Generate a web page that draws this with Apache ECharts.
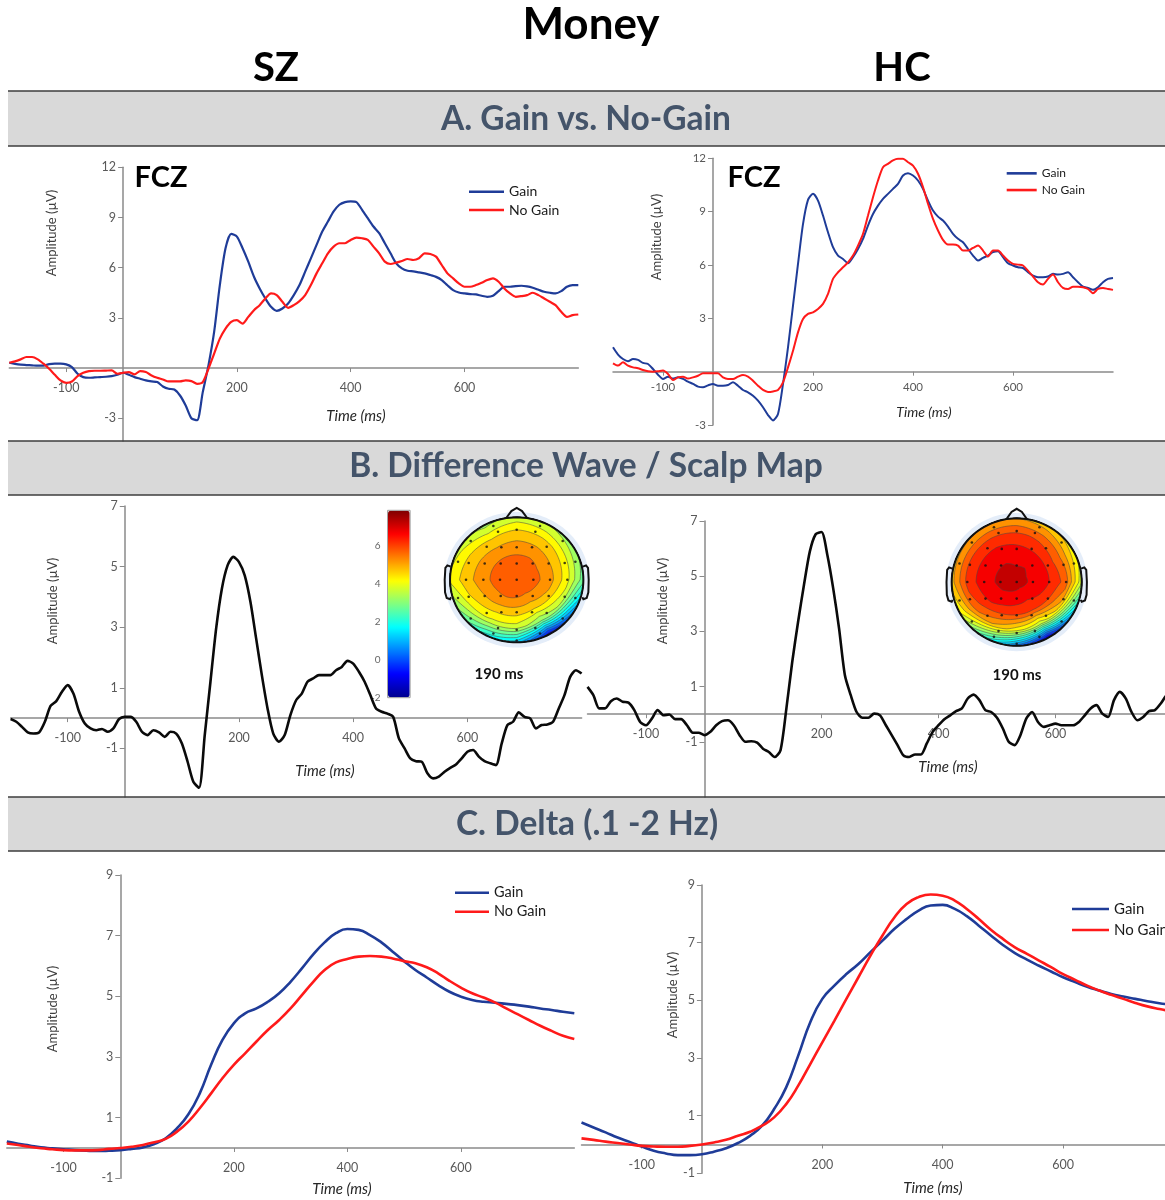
<!DOCTYPE html>
<html>
<head>
<meta charset="utf-8">
<script src="https://cdn.jsdelivr.net/npm/echarts@6/dist/echarts.min.js"></script>
<style>
  html, body { margin: 0; padding: 0; background: #ffffff; }
  #chart { width: 1165px; height: 1200px; }
</style>
</head>
<body>
<div id="chart"></div>
<script>
// ---- Sample times (ms) ----
const timeMs10 = [
  -200,-190,-180,-170,-160,-150,-140,-130,-120,-110,
  -100,-90,-80,-70,-60,-50,-40,-30,-20,-10,
  0,10,20,30,40,50,60,70,80,90,
  100,110,120,130,140,150,160,170,180,190,
  200,210,220,230,240,250,260,270,280,290,
  300,310,320,330,340,350,360,370,380,390,
  400,410,420,430,440,450,460,470,480,490,
  500,510,520,530,540,550,560,570,580,590,
  600,610,620,630,640,650,660,670,680,690,
  700,710,720,730,740,750,760,770,780,790,
  800
];
const timeMs20 = [
  -200,-180,-160,-140,-120,-100,-80,-60,-40,-20,
  0,20,40,60,80,100,120,140,160,180,
  200,220,240,260,280,300,320,340,360,380,
  400,420,440,460,480,500,520,540,560,580,
  600,620,640,660,680,700,720,740,760,780,
  800
];

// ---- A. Gain vs. No-Gain at FCZ (µV) ----
const szGainA = [
  0.32,0.25,0.2,0.18,0.16,0.14,0.14,0.24,0.26,0.26,
  0.22,0.06,-0.34,-0.54,-0.58,-0.56,-0.54,-0.52,-0.48,-0.4,
  -0.28,-0.4,-0.54,-0.64,-0.74,-0.8,-0.84,-1.1,-1.24,-1.28,
  -1.64,-2.24,-3.0,-3.12,-1.44,0.16,2.16,4.96,7.16,8.02,
  7.86,7.16,6.36,5.46,4.76,4.16,3.66,3.42,3.56,3.86,
  4.36,4.96,5.76,6.56,7.36,8.16,8.76,9.36,9.76,9.92,
  9.96,9.92,9.46,8.96,8.46,8.06,7.46,6.86,6.26,5.96,
  5.82,5.78,5.72,5.66,5.56,5.45,5.26,4.95,4.66,4.52,
  4.46,4.42,4.4,4.32,4.26,4.32,4.6,4.86,4.86,4.9,
  4.92,4.88,4.8,4.68,4.56,4.5,4.46,4.6,4.86,4.96,
  4.96
];
const szNoGainA = [
  0.32,0.4,0.52,0.66,0.66,0.52,0.26,-0.04,-0.4,-0.74,
  -0.88,-0.8,-0.48,-0.28,-0.18,-0.16,-0.16,-0.15,-0.14,-0.34,
  -0.28,-0.24,-0.38,-0.18,-0.24,-0.44,-0.58,-0.68,-0.8,-0.8,
  -0.8,-0.74,-0.78,-0.94,-0.84,-0.04,0.86,1.76,2.36,2.76,
  2.86,2.66,3.06,3.46,3.76,4.16,4.46,4.36,3.96,3.6,
  3.76,4.0,4.36,4.96,5.66,6.26,6.86,7.26,7.46,7.46,
  7.66,7.8,7.76,7.66,7.26,6.86,6.36,6.22,6.3,6.4,
  6.52,6.46,6.56,6.86,6.82,6.66,6.16,5.66,5.36,5.06,
  4.86,4.86,4.96,5.1,5.26,5.36,5.16,4.76,4.46,4.26,
  4.3,4.36,4.5,4.36,4.16,3.96,3.76,3.36,3.06,3.16,
  3.2
];
const hcGainA = [
  1.37,0.96,0.71,0.58,0.71,0.66,0.49,0.43,0.15,-0.17,
  -0.41,-0.28,-0.39,-0.32,-0.41,-0.56,-0.69,-0.84,-0.88,-0.77,
  -0.69,-0.79,-0.79,-0.75,-0.6,-0.79,-1.03,-1.16,-1.35,-1.63,
  -2.0,-2.44,-2.74,-2.38,-0.69,1.37,3.71,6.06,8.3,9.66,
  10.0,9.62,8.78,7.84,7.0,6.53,6.34,6.1,6.44,6.9,
  7.47,8.22,8.87,9.34,9.72,10.0,10.28,10.56,11.03,11.16,
  11.03,10.75,10.28,9.62,9.06,8.72,8.5,8.16,7.75,7.47,
  7.28,6.9,6.53,6.25,6.4,6.53,6.72,6.77,6.44,6.1,
  5.97,5.87,5.83,5.59,5.4,5.31,5.31,5.35,5.5,5.46,
  5.5,5.59,5.31,5.03,4.78,4.71,4.6,4.75,5.03,5.22,
  5.27
];
const hcNoGainA = [
  0.47,0.34,0.53,0.34,0.24,0.19,0.09,0.02,0,0.02,
  0.06,-0.13,-0.47,-0.32,-0.28,-0.39,-0.32,-0.23,-0.09,-0.09,
  -0.09,-0.09,-0.32,-0.41,-0.41,-0.28,-0.19,-0.28,-0.51,-0.79,
  -1.03,-1.14,-1.11,-1.03,-0.6,0.24,1.18,2.21,2.96,3.25,
  3.34,3.53,3.81,4.37,5.22,5.59,5.87,6.15,6.53,7.09,
  7.75,8.78,9.81,10.75,11.5,11.69,11.88,11.97,11.97,11.78,
  11.59,11.13,10.38,9.44,8.59,7.94,7.41,7.15,7.15,7.09,
  6.81,6.81,6.96,7.09,6.81,6.47,6.81,6.81,6.53,6.25,
  6.06,6.02,5.97,5.68,5.35,5.03,4.9,5.22,5.46,5.03,
  4.71,4.65,4.78,4.78,4.75,4.65,4.41,4.65,4.71,4.65,
  4.6
];

// ---- B. Difference waves (Gain minus No-Gain, µV) ----
const szDiffB = [
  -0.03,-0.12,-0.29,-0.47,-0.51,-0.47,-0.12,0.4,0.56,0.87,
  1.09,0.81,0.21,-0.18,-0.34,-0.4,-0.36,-0.45,-0.34,-0.03,
  0.04,0.04,-0.12,-0.45,-0.56,-0.4,-0.47,-0.62,-0.45,-0.51,
  -0.84,-1.44,-2.1,-2.3,-0.56,1.2,2.96,4.27,5.04,5.32,
  5.15,4.71,3.84,2.63,1.42,0.32,-0.51,-0.78,-0.56,0.1,
  0.59,0.81,1.2,1.31,1.42,1.42,1.42,1.58,1.69,1.89,
  1.8,1.53,1.2,0.76,0.32,0.21,0.15,0.04,-0.67,-1.0,
  -1.33,-1.42,-1.44,-1.82,-1.99,-1.93,-1.77,-1.64,-1.53,-1.33,
  -1.11,-1.05,-1.27,-1.42,-1.49,-1.55,-0.84,-0.23,-0.12,0.19,
  0.04,-0.01,-0.34,-0.23,-0.21,-0.12,0.32,0.76,1.36,1.58,
  1.47
];
const hcDiffB = [
  0.99,0.69,0.21,0.21,0.47,0.57,0.45,0.42,0.15,-0.28,
  -0.4,-0.16,0.15,-0.04,-0.01,-0.18,-0.18,-0.4,-0.67,-0.67,
  -0.76,-0.64,-0.4,-0.25,-0.22,-0.4,-0.76,-1.0,-0.98,-1.03,
  -1.25,-1.37,-1.55,-1.3,0.21,1.9,3.35,4.68,5.89,6.52,
  6.6,5.77,4.56,3.11,1.41,0.69,0.08,-0.13,-0.13,0.02,
  -0.04,-0.4,-0.76,-1.12,-1.49,-1.55,-1.46,-1.46,-1.06,-0.64,
  -0.4,-0.18,-0.04,0.11,0.21,0.57,0.71,0.51,0.15,0.08,
  -0.13,-0.52,-1.0,-1.12,-0.76,-0.16,0.08,-0.28,-0.46,-0.4,
  -0.34,-0.4,-0.4,-0.4,-0.28,-0.04,0.21,0.33,0.02,-0.1,
  0.51,0.81,0.57,0.08,-0.22,-0.1,0.11,0.15,0.39,0.69,
  0.81
];

// ---- C. Delta band (.1 - 2 Hz, µV) ----
const szGainC = [
  0.21,0.14,0.08,0.02,-0.01,-0.04,-0.07,-0.09,-0.1,-0.09,
  -0.07,-0.03,0.02,0.13,0.32,0.65,1.11,1.8,2.74,3.56,
  4.11,4.44,4.6,4.82,5.1,5.48,5.92,6.38,6.78,7.08,
  7.22,7.19,7.02,6.78,6.47,6.16,5.87,5.62,5.37,5.15,
  4.99,4.88,4.82,4.79,4.75,4.71,4.66,4.6,4.55,4.49,
  4.44
];
const szNoGainC = [
  0.15,0.1,0.04,-0.01,-0.04,-0.07,-0.08,-0.08,-0.07,-0.03,
  0,0.04,0.1,0.19,0.3,0.54,0.87,1.31,1.8,2.3,
  2.74,3.12,3.51,3.89,4.22,4.6,5.04,5.48,5.87,6.12,
  6.23,6.31,6.33,6.31,6.25,6.16,6.09,5.96,5.76,5.51,
  5.29,5.1,4.96,4.8,4.6,4.41,4.22,4.03,3.86,3.7,
  3.59
];
const hcGainC = [
  0.76,0.59,0.42,0.24,0.09,-0.07,-0.22,-0.31,-0.37,-0.37,
  -0.34,-0.25,-0.13,0.05,0.3,0.65,1.23,1.98,3.08,4.24,
  5.05,5.51,5.91,6.26,6.67,7.07,7.48,7.82,8.11,8.29,
  8.31,8.17,7.92,7.59,7.25,6.92,6.64,6.41,6.2,6.0,
  5.8,5.63,5.47,5.34,5.22,5.13,5.05,4.97,4.9,4.85,
  4.81
];
const hcNoGainC = [
  0.21,0.16,0.1,0.05,0,-0.05,-0.07,-0.08,-0.08,-0.05,
  0,0.07,0.16,0.3,0.44,0.65,0.94,1.4,2.04,2.79,
  3.54,4.29,5.05,5.8,6.55,7.25,7.88,8.34,8.58,8.67,
  8.63,8.46,8.17,7.82,7.45,7.13,6.84,6.61,6.38,6.15,
  5.91,5.71,5.51,5.34,5.19,5.05,4.91,4.79,4.7,4.62,
  4.55
];

// ---- Tick labels ----
const xTicks = [-100, 200, 400, 600];
const yTicksA = [-3, 3, 6, 9, 12];
const yTicksB = [-1, 1, 3, 5, 7];
const yTicksC = [-1, 1, 3, 5, 7, 9];
const colorbarTicks = [-2, 0, 2, 4, 6];

// ---- Scalp topography at 190 ms (µV) ----
// Value at the vertex, then for 12 directions (0° = nose, clockwise)
// the amplitude at 1/4, 1/2, 3/4 and full head radius.
const szScalpCenter = 5.95;
const szScalpRays = [
  [5.8, 5.3, 4.7, 3.7],
  [5.8, 5.3, 4.6, 3.5],
  [5.7, 5.2, 4.4, 3.1],
  [5.7, 5.2, 4.2, 2.7],
  [5.6, 4.9, 3.6, 0.5],
  [5.5, 4.7, 3.0, -1.0],
  [5.6, 4.8, 3.8, 1.2],
  [5.7, 4.9, 3.9, 1.8],
  [5.7, 5.1, 4.3, 2.9],
  [5.8, 5.3, 4.8, 4.1],
  [5.8, 5.3, 4.7, 3.8],
  [5.8, 5.3, 4.5, 3.3]
];
const hcScalpCenter = 7.2;
const hcScalpRays = [
  [7.0, 6.7, 6.1, 5.0],
  [7.0, 6.6, 5.9, 4.7],
  [6.9, 6.5, 5.6, 4.2],
  [6.9, 6.5, 5.8, 3.6],
  [6.8, 6.3, 4.8, 1.0],
  [6.7, 6.0, 3.6, -1.3],
  [6.8, 6.1, 4.2, 0.3],
  [6.9, 6.3, 5.0, 2.0],
  [7.0, 6.6, 5.7, 3.9],
  [7.1, 6.8, 6.2, 4.8],
  [7.1, 6.8, 6.2, 4.9],
  [7.1, 6.8, 6.2, 5.0]
];
const scalpLevels = [-1.5,-1,-0.5,0,0.5,1,1.5,2,2.5,3,3.5,4,4.5,5,5.5,6,6.5,7];
// Electrode montage in head units (x right, y toward nose)
const electrodePos = [
  [-0.28,0.77],[0,0.8],[0.28,0.77],
  [-0.45,0.53],[-0.23,0.52],[0,0.52],[0.23,0.52],[0.45,0.53],
  [-0.72,0.27],[-0.48,0.26],[-0.24,0.26],[0,0.26],[0.24,0.26],[0.48,0.26],[0.72,0.27],
  [-0.76,0],[-0.5,0],[-0.25,0],[0,0],[0.25,0],[0.5,0],[0.76,0],
  [-0.72,-0.27],[-0.48,-0.26],[-0.24,-0.26],[0,-0.26],[0.24,-0.26],[0.48,-0.26],[0.72,-0.27],
  [-0.45,-0.53],[-0.23,-0.52],[0,-0.52],[0.23,-0.52],[0.45,-0.53],
  [-0.28,-0.77],[0,-0.8],[0.28,-0.77],[0,-0.97],
  [0.35,0.86],[0.69,0.62],[0.88,0.29],[0.88,-0.29],[0.69,-0.62],[0.35,-0.86],
  [-0.35,0.86],[-0.69,0.62],[-0.88,0.29],[-0.88,-0.29],[-0.69,-0.62],[-0.35,-0.86]
];
const jetColors = ['#00008f','#0000ff','#0080ff','#00ffff','#80ff80','#ffff00','#ff8000','#ff0000','#800000'];

// ---- Styling ----
const FONT = 'Lato, "Open Sans", "DejaVu Sans", sans-serif';
const BLUE = '#1f3c98';
const RED = '#ff1a1a';
const AXIS = '#8a8a8a';
const LABEL = '#595959';

// Plot areas: pixel box plus value range; axes cross at (0 ms, 0 µV)
const panels = [
  { left: 9.3,   top: 167.3, width: 569,   height: 273.7, yMin: -4.36, yMax: 12, yTicks: yTicksA, fs: 12.5, xMargin: 13 }, // A SZ
  { left: 613,   top: 158.3, width: 500,   height: 266.7, yMin: -3,    yMax: 12, yTicks: yTicksA, fs: 11.5, xMargin: 10 }, // A HC
  { left: 10.6,  top: 506,   width: 571,   height: 290.9, yMin: -2.6,  yMax: 7,  yTicks: yTicksB, fs: 12.5, xMargin: 13 }, // B SZ
  { left: 587.5, top: 521,   width: 585,   height: 276,   yMin: -3,    yMax: 7,  yTicks: yTicksB, fs: 12.5, xMargin: 13 }, // B HC
  { left: 6.8,   top: 875,   width: 567.5, height: 303.3, yMin: -1,    yMax: 9,  yTicks: yTicksC, fs: 12.5, xMargin: 13 }, // C SZ
  { left: 581.5, top: 885,   width: 602,   height: 288.3, yMin: -1,    yMax: 9,  yTicks: yTicksC, fs: 12.5, xMargin: 14 }  // C HC
];
const T_MIN = -200, T_MAX = 800;

function panelGrid(p) {
  return { left: p.left, top: p.top, width: p.width, height: p.height, containLabel: false, outerBoundsMode: 'none', show: false };
}
function panelX(p, gi) {
  // lift the bottom axis up to the 0 µV line
  const lift = p.height * (0 - p.yMin) / (p.yMax - p.yMin);
  return {
    gridIndex: gi, type: 'value', min: T_MIN, max: T_MAX, position: 'bottom', offset: -lift,
    axisLine: { show: true, onZero: false, lineStyle: { color: AXIS, width: 1.5 } },
    axisTick: { show: true, customValues: xTicks, length: 4, lineStyle: { color: AXIS } },
    axisLabel: { customValues: xTicks, color: LABEL, fontSize: p.fs, margin: p.xMargin, fontFamily: FONT },
    splitLine: { show: false }
  };
}
function panelY(p, gi) {
  // shift the left axis right to the 0 ms line
  const shift = p.width * (0 - T_MIN) / (T_MAX - T_MIN);
  return {
    gridIndex: gi, type: 'value', min: p.yMin, max: p.yMax, position: 'left', offset: -shift,
    axisLine: { show: true, onZero: false, lineStyle: { color: AXIS, width: 1.5 } },
    axisTick: { show: true, customValues: p.yTicks, length: 5, lineStyle: { color: AXIS } },
    axisLabel: { customValues: p.yTicks, color: LABEL, fontSize: p.fs, margin: 7, fontFamily: FONT },
    splitLine: { show: false }
  };
}
function wave(name, gi, times, vals, color, width, smooth) {
  return {
    type: 'line', name, xAxisIndex: gi, yAxisIndex: gi,
    data: times.map((t, i) => [t, vals[i]]),
    showSymbol: false, symbol: 'none', smooth,
    lineStyle: { color, width }, itemStyle: { color },
    silent: true, z: 3
  };
}
function legend(left, top, w, fs, lh) {
  return {
    data: ['Gain', 'No Gain'], orient: 'vertical', left, top, padding: 0,
    itemGap: 0, itemWidth: w, itemHeight: 2.6, icon: 'rect', selectedMode: false,
    textStyle: { fontSize: fs, lineHeight: lh, color: '#1a1a1a', fontFamily: FONT }
  };
}
function text(str, x, y, font, fill, rotation) {
  return {
    type: 'text', x, y, rotation: rotation || 0, z: 100, silent: true,
    style: { text: str, font, fill, align: 'center', verticalAlign: 'middle',
             textAlign: 'center', textVerticalAlign: 'middle' }
  };
}
function band(y1, y2) {
  return [
    { type: 'rect', z: 0, silent: true, shape: { x: 8, y: y1, width: 1160, height: y2 - y1 }, style: { fill: '#d9d9d9' } },
    { type: 'line', z: 1, silent: true, shape: { x1: 8, y1: y1, x2: 1168, y2: y1 }, style: { stroke: '#3c3c3c', lineWidth: 1.6 } },
    { type: 'line', z: 1, silent: true, shape: { x1: 8, y1: y2, x2: 1168, y2: y2 }, style: { stroke: '#3c3c3c', lineWidth: 1.6 } }
  ];
}

// ---- Topographic map rendering (contours along radial profiles) ----
function profileAt(center, rays, angDeg) {
  const n = rays.length, step = 360 / n;
  const a = ((angDeg % 360) + 360) % 360;
  const i0 = Math.floor(a / step) % n, i1 = (i0 + 1) % n;
  const f = (a - i0 * step) / step;
  const prof = [center];
  for (let j = 0; j < rays[i0].length; j++) prof.push(rays[i0][j] * (1 - f) + rays[i1][j] * f);
  return prof;
}
function isoRadius(prof, level) {
  if (prof[0] < level) return 0;
  const dr = 1 / (prof.length - 1);
  for (let j = 1; j < prof.length; j++) {
    if (prof[j] < level) {
      const f = (prof[j - 1] - level) / (prof[j - 1] - prof[j]);
      return (j - 1 + f) * dr;
    }
  }
  return 1;
}
function contourRenderer(center, rays) {
  return function (params, api) {
    const level = api.value(0);
    const pts = [];
    let any = false;
    const N = 120;
    for (let k = 0; k < N; k++) {
      const ang = k * 360 / N;
      const r = isoRadius(profileAt(center, rays, ang), level);
      if (r > 0) any = true;
      const a = ang * Math.PI / 180;
      pts.push(api.coord([r * Math.sin(a), r * Math.cos(a)]));
    }
    if (!any) return null;
    return {
      type: 'polygon', shape: { points: pts, smooth: 0.3 },
      style: { fill: api.visual('color'), stroke: 'rgba(70,70,70,0.75)', lineWidth: 0.7 }
    };
  };
}
function ringPoints(api, r) {
  const p = [];
  for (let k = 0; k <= 120; k++) {
    const a = k * 2 * Math.PI / 120;
    p.push(api.coord([r * Math.sin(a), r * Math.cos(a)]));
  }
  return p;
}
const noseOutline = [[-0.16, 0.985], [-0.08, 1.1], [0, 1.15], [0.08, 1.1], [0.16, 0.985]];
const earOutline = [[-0.99, 0.21], [-1.04, 0.23], [-1.07, 0.19], [-1.08, 0.0], [-1.075, -0.2], [-1.05, -0.29], [-1.0, -0.31], [-0.985, -0.28]];
function haloRenderer(params, api) {
  return { type: 'polygon', shape: { points: ringPoints(api, 1.085) }, style: { fill: '#e4edf9' } };
}
function headRenderer(params, api) {
  const toPx = arr => arr.map(p => api.coord(p));
  const lineStyle = { stroke: '#111', lineWidth: 2, fill: null };
  return {
    type: 'group',
    children: [
      { type: 'polyline', shape: { points: ringPoints(api, 1) }, style: lineStyle },
      { type: 'polyline', shape: { points: toPx(noseOutline) }, style: lineStyle },
      { type: 'polyline', shape: { points: toPx(earOutline) }, style: lineStyle },
      { type: 'polyline', shape: { points: toPx(earOutline.map(p => [-p[0], p[1]])) }, style: lineStyle }
    ]
  };
}
function scalpAxes(gi) {
  return {
    x: { gridIndex: gi, type: 'value', min: -1.2, max: 1.2, show: false },
    y: { gridIndex: gi, type: 'value', min: -1.2, max: 1.2, show: false }
  };
}
function scalpSeries(gi, center, rays) {
  return [
    { type: 'custom', xAxisIndex: gi, yAxisIndex: gi, z: 1, silent: true, data: [[0, 0]], renderItem: haloRenderer },
    { type: 'custom', xAxisIndex: gi, yAxisIndex: gi, z: 2, silent: true,
      data: scalpLevels.map(L => [L, L + 0.25]), renderItem: contourRenderer(center, rays) },
    { type: 'custom', xAxisIndex: gi, yAxisIndex: gi, z: 3, silent: true, data: [[0, 0]], renderItem: headRenderer },
    { type: 'scatter', xAxisIndex: gi, yAxisIndex: gi, z: 4, silent: true, data: electrodePos,
      symbolSize: 2.6, itemStyle: { color: '#111' } }
  ];
}

const szScalp = scalpAxes(6), hcScalp = scalpAxes(7);

const option = {
  animation: false,
  backgroundColor: '#ffffff',
  grid: [
    ...panels.map(panelGrid),
    { left: 436.7, top: 504.8, width: 160, height: 150, containLabel: false, outerBoundsMode: 'none' },   // scalp SZ
    { left: 938.7, top: 505.6, width: 156, height: 152.9, containLabel: false, outerBoundsMode: 'none' }, // scalp HC
    { left: 387.6, top: 510.3, width: 22.5, height: 187.4, show: true, borderColor: '#9a9a9a', borderWidth: 1,
      backgroundColor: 'transparent', containLabel: false, outerBoundsMode: 'none' } // colour bar
  ],
  xAxis: [
    ...panels.map(panelX),
    szScalp.x, hcScalp.x,
    { gridIndex: 8, type: 'value', min: 0, max: 1, show: false }
  ],
  yAxis: [
    ...panels.map(panelY),
    szScalp.y, hcScalp.y,
    { gridIndex: 8, type: 'value', min: -2, max: 7.9,
      axisLine: { show: false }, axisTick: { show: false }, splitLine: { show: false },
      axisLabel: { customValues: colorbarTicks, color: '#666', fontSize: 10, margin: 7, fontFamily: FONT } }
  ],
  visualMap: [{
    type: 'continuous', seriesIndex: [11, 15], dimension: 1,
    min: -2, max: 7.9, inRange: { color: jetColors },
    orient: 'vertical', left: 388, top: 510.7, itemWidth: 21.7, itemHeight: 186.6,
    calculable: false, hoverLink: false, padding: 0, text: null, borderWidth: 0
  }],
  legend: [
    legend(469, 182.6, 35, 14, 18.3),
    legend(1006.7, 165, 30, 12, 16.7),
    legend(455, 883.2, 34, 14.5, 19),
    legend(1072, 898.5, 37, 15, 21)
  ],
  series: [
    wave('Gain', 0, timeMs10, szGainA, BLUE, 2.2, 0.25),
    wave('No Gain', 0, timeMs10, szNoGainA, RED, 2.2, 0.25),
    wave('Gain', 1, timeMs10, hcGainA, BLUE, 2, 0.25),
    wave('No Gain', 1, timeMs10, hcNoGainA, RED, 2, 0.25),
    wave('Gain − No Gain', 2, timeMs10, szDiffB, '#0a0a0a', 2.6, 0.25),
    wave('Gain − No Gain', 3, timeMs10, hcDiffB, '#0a0a0a', 2.6, 0.25),
    wave('Gain', 4, timeMs20, szGainC, BLUE, 2.6, 0.5),
    wave('No Gain', 4, timeMs20, szNoGainC, RED, 2.6, 0.5),
    wave('Gain', 5, timeMs20, hcGainC, BLUE, 2.6, 0.5),
    wave('No Gain', 5, timeMs20, hcNoGainC, RED, 2.6, 0.5),
    ...scalpSeries(6, szScalpCenter, szScalpRays),
    ...scalpSeries(7, hcScalpCenter, hcScalpRays)
  ],
  graphic: {
    elements: [
      ...band(91, 146), ...band(441, 495), ...band(797, 851),
      text('Money', 591, 25, 'bold 44px ' + FONT, '#000'),
      text('SZ', 276, 68, 'bold 40px ' + FONT, '#000'),
      text('HC', 902, 68, 'bold 40px ' + FONT, '#000'),
      text('A. Gain vs. No-Gain', 586, 119, 'bold 33.5px ' + FONT, '#44546a'),
      text('B. Difference Wave / Scalp Map', 586, 466, 'bold 33.5px ' + FONT, '#44546a'),
      text('C. Delta (.1 -2 Hz)', 587, 824, 'bold 33.5px ' + FONT, '#44546a'),
      text('FCZ', 161, 178, 'bold 29px ' + FONT, '#000'),
      text('FCZ', 754, 178, 'bold 29px ' + FONT, '#000'),
      text('Amplitude (µV)', 52, 233, '13px ' + FONT, '#404040', Math.PI / 2),
      text('Amplitude (µV)', 657, 237, '13px ' + FONT, '#404040', Math.PI / 2),
      text('Amplitude (µV)', 53, 601, '13px ' + FONT, '#404040', Math.PI / 2),
      text('Amplitude (µV)', 663, 601, '13px ' + FONT, '#404040', Math.PI / 2),
      text('Amplitude (µV)', 53, 1009, '13px ' + FONT, '#404040', Math.PI / 2),
      text('Amplitude (µV)', 673, 995, '13px ' + FONT, '#404040', Math.PI / 2),
      text('Time (ms)', 356, 416, 'italic 15px ' + FONT, '#262626'),
      text('Time (ms)', 924, 412, 'italic 14px ' + FONT, '#262626'),
      text('Time (ms)', 325, 771, 'italic 15px ' + FONT, '#262626'),
      text('Time (ms)', 948, 767, 'italic 15px ' + FONT, '#262626'),
      text('Time (ms)', 342, 1189, 'italic 15px ' + FONT, '#262626'),
      text('Time (ms)', 933, 1188, 'italic 15px ' + FONT, '#262626'),
      text('190 ms', 499, 674, 'bold 15px ' + FONT, '#111'),
      text('190 ms', 1017, 675, 'bold 15px ' + FONT, '#111')
    ]
  }
};

const chart = echarts.init(document.getElementById('chart'), null, { renderer: 'canvas', width: 1165, height: 1200 });
chart.setOption(option);
</script>
</body>
</html>
